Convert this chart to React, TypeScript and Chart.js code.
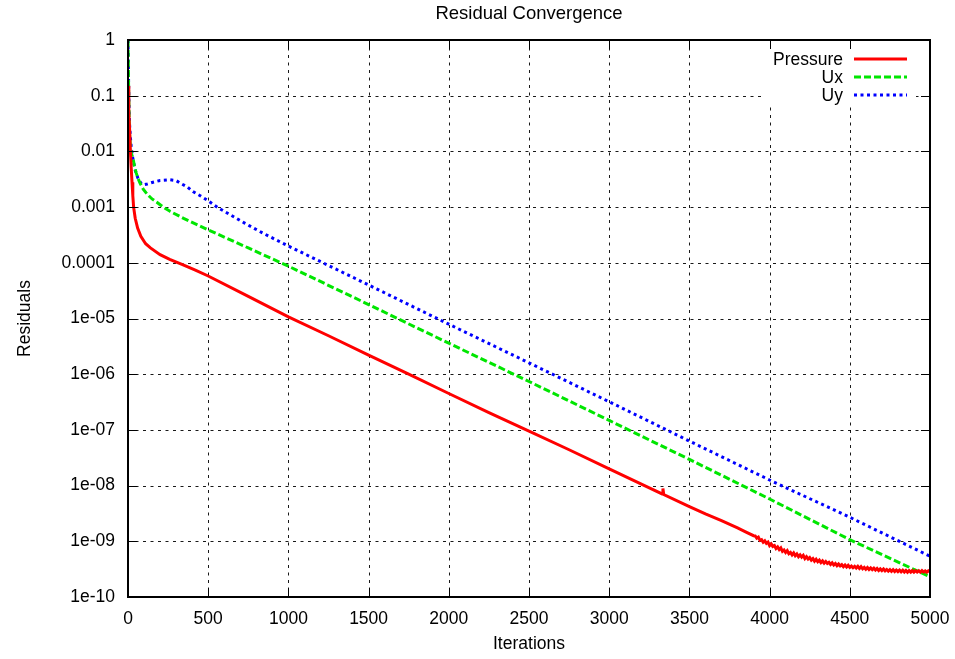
import React, { useEffect, useRef } from "react";
import { Chart, registerables } from "chart.js";

Chart.register(...registerables);

const chartTitle = "Residual Convergence";
const xAxisTitle = "Iterations";
const yAxisTitle = "Residuals";
const seriesNames = ["Pressure", "Ux", "Uy"];

const xTickValues = [0, 500, 1000, 1500, 2000, 2500, 3000, 3500, 4000, 4500, 5000];
const yTickValues = [1, 0.1, 0.01, 0.001, 0.0001, 1e-5, 1e-6, 1e-7, 1e-8, 1e-9, 1e-10];
const yTickLabels = ["1", "0.1", "0.01", "0.001", "0.0001", "1e-05", "1e-06", "1e-07", "1e-08", "1e-09", "1e-10"];

// Pressure: main decay
const pressureIter = [
  0, 5, 10, 15, 20, 25, 30, 35, 45, 60, 80, 110, 140, 200, 260, 340, 420, 500, 750, 1000,
  1250, 1500, 1750, 2000, 2250, 2500, 2750, 3000, 3250, 3330, 3335, 3340, 3500, 3600, 3700, 3800, 3850, 3900,
];
const pressureRes = [
  0.15, 0.05, 0.025, 0.01, 0.005, 0.0028, 0.0016, 0.001, 6.3e-4, 4.2e-4, 3e-4, 2.2e-4, 1.85e-4, 1.4e-4, 1.15e-4, 9.3e-5, 7.4e-5, 5.8e-5, 2.5e-5, 1.07e-5,
  4.9e-6, 2.2e-6, 1e-6, 4.5e-7, 2.05e-7, 9.5e-8, 4.4e-8, 2e-8, 9.1e-9, 7.1e-9, 8.9e-9, 6.9e-9, 4.2e-9, 3.1e-9, 2.35e-9, 1.74e-9, 1.48e-9, 1.26e-9,
];
// Pressure: noisy tail (every 10 iterations from 3910)
const pressureTailIter = [
  3910, 3920, 3930, 3940, 3950, 3960, 3970, 3980, 3990, 4000, 4010, 4020, 4030, 4040, 4050, 4060, 4070, 4080, 4090, 4100,
  4110, 4120, 4130, 4140, 4150, 4160, 4170, 4180, 4190, 4200, 4210, 4220, 4230, 4240, 4250, 4260, 4270, 4280, 4290, 4300,
  4310, 4320, 4330, 4340, 4350, 4360, 4370, 4380, 4390, 4400, 4410, 4420, 4430, 4440, 4450, 4460, 4470, 4480, 4490, 4500,
  4510, 4520, 4530, 4540, 4550, 4560, 4570, 4580, 4590, 4600, 4610, 4620, 4630, 4640, 4650, 4660, 4670, 4680, 4690, 4700,
  4710, 4720, 4730, 4740, 4750, 4760, 4770, 4780, 4790, 4800, 4810, 4820, 4830, 4840, 4850, 4860, 4870, 4880, 4890, 4900,
  4910, 4920, 4930, 4940, 4950, 4960, 4970, 4980, 4990, 5000,
];
const pressureTailRes = [
  1.25e-9, 1.14e-9, 1.19e-9, 1.04e-9, 1.07e-9, 9.6e-10, 1.02e-9, 9.2e-10, 9.7e-10, 8.4e-10, 9.0e-10, 8.1e-10, 8.4e-10, 7.4e-10, 7.9e-10, 7.1e-10, 7.6e-10, 6.6e-10, 7.0e-10, 6.3e-10,
  6.8e-10, 6.0e-10, 6.3e-10, 5.7e-10, 6.2e-10, 5.5e-10, 5.9e-10, 5.3e-10, 5.7e-10, 5.2e-10, 5.6e-10, 4.9e-10, 5.3e-10, 4.8e-10, 5.1e-10, 4.6e-10, 4.9e-10, 4.4e-10, 4.75e-10, 4.3e-10,
  4.6e-10, 4.15e-10, 4.45e-10, 4.05e-10, 4.35e-10, 4.0e-10, 4.2e-10, 3.85e-10, 4.1e-10, 3.75e-10, 4.0e-10, 3.65e-10, 3.9e-10, 3.6e-10, 3.8e-10, 3.5e-10, 3.75e-10, 3.45e-10, 3.7e-10, 3.4e-10,
  3.6e-10, 3.35e-10, 3.55e-10, 3.3e-10, 3.55e-10, 3.25e-10, 3.5e-10, 3.2e-10, 3.4e-10, 3.15e-10, 3.38e-10, 3.12e-10, 3.32e-10, 3.1e-10, 3.3e-10, 3.05e-10, 3.25e-10, 3.0e-10, 3.2e-10, 2.98e-10,
  3.18e-10, 2.95e-10, 3.12e-10, 2.92e-10, 3.1e-10, 2.88e-10, 3.08e-10, 2.86e-10, 3.05e-10, 2.85e-10, 3.04e-10, 2.83e-10, 3.02e-10, 2.8e-10, 3.0e-10, 2.78e-10, 2.98e-10, 2.8e-10, 2.98e-10, 2.79e-10,
  2.97e-10, 2.8e-10, 2.96e-10, 2.78e-10, 2.97e-10, 2.8e-10, 2.95e-10, 2.79e-10, 2.96e-10, 2.85e-10,
];

const uxIter = [0, 2, 4, 7, 10, 15, 22, 31, 40, 50, 62, 75, 95, 120, 150, 180, 220, 262, 350, 500, 750, 1000, 1500, 2000, 2500, 3000, 3500, 4000, 4500, 5000];
const uxRes = [1, 0.4, 0.12, 0.04, 0.02, 0.012, 0.009, 0.0075, 0.0055, 0.0042, 0.0033, 0.0027, 0.0021, 0.0017, 0.0014, 0.00122, 0.001, 8.4e-4, 6.2e-4, 3.9e-4, 1.85e-4, 8.7e-5, 1.78e-5, 3.6e-6, 7.4e-7, 1.48e-7, 2.95e-8, 5.75e-9, 1.07e-9, 2.3e-10];

const uyIter = [0, 2, 4, 7, 10, 15, 20, 30, 44, 62, 80, 94, 120, 156, 200, 262, 300, 325, 370, 405, 450, 500, 560, 640, 730, 850, 1000, 1500, 2000, 2500, 3000, 3500, 4000, 4500, 5000];
const uyRes = [1, 0.4, 0.15, 0.05, 0.03, 0.018, 0.012, 0.0075, 0.0047, 0.0033, 0.0027, 0.0025, 0.0026, 0.0028, 0.003, 0.0031, 0.003, 0.0027, 0.0023, 0.0019, 0.0016, 0.0013, 0.00098, 7.2e-4, 5.1e-4, 3.3e-4, 2.0e-4, 4.0e-5, 7.9e-6, 1.6e-6, 3.2e-7, 6.3e-8, 1.26e-8, 2.7e-9, 5.4e-10];

const FONT_FAMILY = "'Liberation Sans', Arial, Helvetica, sans-serif";
const FONT_SIZE = 17.5;
const TITLE_SIZE = 18.5;
const seriesColors = ["#ff0000", "#00e600", "#0000ff"];
const seriesDash = [[], [7, 3], [3, 3.5]];
const seriesWidth = [3, 3, 3];

const toPoints = (xs: number[], ys: number[]) => xs.map((x, i) => ({ x, y: ys[i] }));

const framePlugin = {
  id: "gnuplotFrame",
  beforeDatasetsDraw(chart: any) {
    const { ctx, chartArea: a, scales } = chart;
    ctx.save();
    ctx.strokeStyle = "rgba(0,0,0,0.9)";
    ctx.lineWidth = 1;
    ctx.setLineDash([3, 4.5]);
    for (const v of xTickValues) {
      const px = Math.round(scales.x.getPixelForValue(v)) + 0.5;
      if (px <= a.left + 2 || px >= a.right - 2) continue;
      ctx.beginPath();
      ctx.moveTo(px, a.top);
      ctx.lineTo(px, a.bottom);
      ctx.stroke();
    }
    for (const v of yTickValues) {
      const py = Math.round(scales.y.getPixelForValue(v)) + 0.5;
      if (py <= a.top + 2 || py >= a.bottom - 2) continue;
      ctx.beginPath();
      ctx.moveTo(a.left, py);
      ctx.lineTo(a.right, py);
      ctx.stroke();
    }
    ctx.restore();
  },
  afterDatasetsDraw(chart: any) {
    const { ctx, chartArea: a, scales } = chart;
    ctx.save();
    // legend box
    ctx.fillStyle = "#ffffff";
    ctx.fillRect(a.right - 167, a.top + 9, 153, 57);
    ctx.font = `${FONT_SIZE}px ${FONT_FAMILY}`;
    ctx.textAlign = "right";
    ctx.textBaseline = "alphabetic";
    seriesNames.forEach((name, i) => {
      const rowY = a.top + 19 + i * 18;
      ctx.fillStyle = "#000";
      ctx.fillText(name, a.right - 87, rowY + 6);
      ctx.strokeStyle = seriesColors[i];
      ctx.lineWidth = seriesWidth[i];
      ctx.setLineDash(seriesDash[i]);
      ctx.beginPath();
      ctx.moveTo(a.right - 76, rowY);
      ctx.lineTo(a.right - 23, rowY);
      ctx.stroke();
    });
    ctx.setLineDash([]);
    // tick marks
    ctx.strokeStyle = "#000";
    ctx.lineWidth = 1;
    const TL = 9;
    for (const v of xTickValues) {
      const px = Math.round(scales.x.getPixelForValue(v)) + 0.5;
      ctx.beginPath();
      ctx.moveTo(px, a.bottom);
      ctx.lineTo(px, a.bottom - TL);
      ctx.moveTo(px, a.top);
      ctx.lineTo(px, a.top + TL);
      ctx.stroke();
    }
    for (const v of yTickValues) {
      const py = Math.round(scales.y.getPixelForValue(v)) + 0.5;
      ctx.beginPath();
      ctx.moveTo(a.left, py);
      ctx.lineTo(a.left + TL, py);
      ctx.moveTo(a.right, py);
      ctx.lineTo(a.right - TL, py);
      ctx.stroke();
    }
    // border
    ctx.lineWidth = 2;
    ctx.strokeRect(a.left, a.top, a.right - a.left, a.bottom - a.top);
    // title
    ctx.fillStyle = "#000";
    ctx.textAlign = "center";
    ctx.font = `${TITLE_SIZE}px ${FONT_FAMILY}`;
    ctx.fillText(chartTitle, (a.left + a.right) / 2, 18.5);
    ctx.restore();
  },
};

export default function App() {
  const canvasRef = useRef<HTMLCanvasElement | null>(null);

  useEffect(() => {
    if (!canvasRef.current) return;
    const font = { family: FONT_FAMILY, size: FONT_SIZE };
    const chart = new Chart(canvasRef.current, {
      type: "line",
      data: {
        datasets: [
          { label: seriesNames[0], data: toPoints(pressureIter.concat(pressureTailIter), pressureRes.concat(pressureTailRes)) },
          { label: seriesNames[1], data: toPoints(uxIter, uxRes) },
          { label: seriesNames[2], data: toPoints(uyIter, uyRes) },
        ].map((d, i) => ({
          ...d,
          borderColor: seriesColors[i],
          backgroundColor: seriesColors[i],
          borderWidth: seriesWidth[i],
          borderDash: seriesDash[i],
          pointRadius: 0,
          tension: 0,
          fill: false,
        })),
      },
      options: {
        responsive: false,
        animation: false,
        layout: { padding: { top: 40, right: 25, bottom: 0, left: 0 } },
        plugins: { legend: { display: false }, tooltip: { enabled: false }, title: { display: false } },
        scales: {
          x: {
            type: "linear",
            min: 0,
            max: 5000,
            afterBuildTicks: (s: any) => {
              s.ticks = xTickValues.map((v) => ({ value: v }));
            },
            afterFit: (s: any) => {
              s.height = 62;
              s.paddingLeft = 0;
              s.paddingRight = 0;
            },
            ticks: {
              font,
              color: "#000",
              padding: 11.5,
              maxRotation: 0,
              autoSkip: false,
              callback: (v: any) => String(v),
            },
            grid: { display: false, drawTicks: false },
            border: { display: false },
            title: { display: true, text: xAxisTitle, font, color: "#000", padding: { top: 0, bottom: 4.5 } },
          },
          y: {
            type: "logarithmic",
            min: 1e-10,
            max: 1,
            afterBuildTicks: (s: any) => {
              s.ticks = yTickValues.map((v) => ({ value: v }));
            },
            afterFit: (s: any) => {
              s.width = 128;
            },
            ticks: {
              font,
              color: "#000",
              padding: 13,
              autoSkip: false,
              callback: (_v: any, i: number) => yTickLabels[i],
            },
            grid: { display: false, drawTicks: false },
            border: { display: false },
            title: { display: true, text: yAxisTitle, font, color: "#000", padding: { top: 14.5, bottom: 0 } },
          },
        },
      },
      plugins: [framePlugin],
    } as any);
    return () => chart.destroy();
  }, []);

  return (
    <div style={{ position: "fixed", left: 0, top: 0, width: 955, height: 659, background: "#fff" }}>
      <canvas ref={canvasRef} width={955} height={659} style={{ display: "block" }} />
    </div>
  );
}
